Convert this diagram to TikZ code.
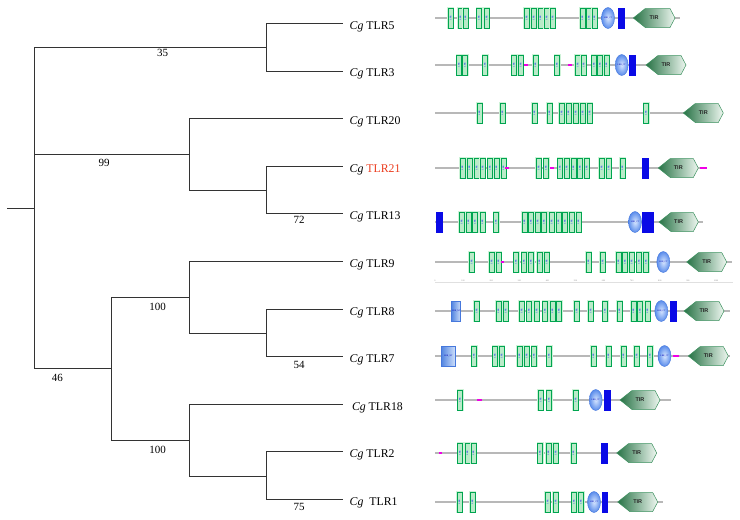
\documentclass[tikz,border=0pt]{standalone}
\usepackage{fontspec}
\setmainfont{Liberation Serif}
\newfontfamily\tirsans{Liberation Sans}
\usetikzlibrary{shapes.geometric}
\definecolor{lrrline}{RGB}{0,165,80}
\definecolor{lrrfill}{RGB}{185,235,200}
\definecolor{lrrglow}{RGB}{205,242,215}
\definecolor{ctline}{RGB}{70,120,220}
\definecolor{ctin}{RGB}{215,230,255}
\definecolor{ctout}{RGB}{90,140,235}
\definecolor{tmblue}{RGB}{10,10,230}
\definecolor{pk}{RGB}{240,0,230}
\definecolor{tirdark}{RGB}{40,115,70}
\definecolor{tirlight}{RGB}{238,247,240}
\definecolor{tirline}{RGB}{60,145,95}
\definecolor{ntdark}{RGB}{85,135,225}
\definecolor{ntlight}{RGB}{205,222,250}
\definecolor{redlab}{RGB}{235,60,30}
\newcounter{dn}
\newcommand{\dL}[2]{\stepcounter{dn}\node[lrrbox] (d\arabic{dn}) at (#1,#2) {LRR};}
\newcommand{\dC}[2]{\stepcounter{dn}\node[ctov] (d\arabic{dn}) at (#1,#2) {LRR\_CT};}
\newcommand{\dT}[3]{\stepcounter{dn}\node[tmbox,minimum width=#3pt] (d\arabic{dn}) at (#1,#2) {};}
\newcommand{\dP}[3]{\stepcounter{dn}\node[pkbox,minimum width=#3pt] (d\arabic{dn}) at (#1,#2) {};}
\newcommand{\dN}[3]{\stepcounter{dn}\node[ntbox,minimum width=#3pt] (d\arabic{dn}) at (#1,#2) {LRR\_NT};}
\newcommand{\dTIR}[3]{\draw[tirshape] (#1,#3) -- ({#1+12},{#3-9.5}) -- ({#2-5},{#3-9.5}) -- (#2,#3) -- ({#2-5},{#3+9.5}) -- ({#1+12},{#3+9.5}) -- cycle;
 \stepcounter{dn}\node[tirtext] (d\arabic{dn}) at ({(#1+#2)/2},#3) {TIR};}
\newcommand{\dB}[3]{\draw[backbone] (#1,#3) -- (#2,#3);}
\begin{document}
\begin{tikzpicture}[x=1pt,y=-1pt,
 tree/.style={draw=black!80,line width=1pt},
 leaf/.style={anchor=base west,inner sep=0pt,font=\fontsize{11.8}{13}\selectfont},
 bs/.style={inner sep=0pt,font=\fontsize{11}{12}\selectfont},
 backbone/.style={draw=black!28,line width=1.3pt},
 lrrbox/.style={rotate=90,draw=lrrline,fill=lrrfill,line width=0.5pt,minimum width=19.5pt,minimum height=5pt,inner sep=0pt,text=blue,font=\fontsize{2.2}{2.4}\selectfont,preaction={draw=lrrglow,line width=2pt}},
 ctov/.style={ellipse,minimum width=13pt,minimum height=21pt,inner sep=0pt,draw=ctline,line width=0.4pt,inner color=ctin,outer color=ctout,text=blue!70!black,font=\fontsize{2.2}{2.4}\selectfont},
 tmbox/.style={rectangle,fill=tmblue,minimum height=21pt,inner sep=0pt},
 pkbox/.style={rectangle,fill=pk,minimum height=2.8pt,inner sep=0pt},
 ntbox/.style={rectangle,draw=ctline,line width=0.5pt,left color=ntdark,right color=ntlight,minimum height=20pt,inner sep=0pt,text=blue!70!black,font=\fontsize{2.2}{2.4}\selectfont},
 tirshape/.style={draw=tirline,line width=0.5pt,left color=tirdark,right color=tirlight},
 tirtext/.style={inner sep=0pt,font=\tirsans\bfseries\fontsize{5.5}{6}\selectfont,text=black!85},
 ticklab/.style={inner sep=0pt,text=black!45,font=\fontsize{2.2}{2.4}\selectfont}]
\useasboundingbox (0,0) rectangle (740,520);
% ---------- tree ----------
\coordinate (r0) at (7,208.3);
\coordinate (n0) at (34,208.3);
\coordinate (n1) at (266,47);
\coordinate (n2) at (189,154.3);
\coordinate (n3) at (266,190);
\coordinate (n4) at (111,368.3);
\coordinate (n5) at (189,297.3);
\coordinate (n6) at (266,333);
\coordinate (n7) at (189,440);
\coordinate (n8) at (266,476);
\coordinate (l5) at (343,23.7);
\coordinate (l3) at (343,71);
\coordinate (l20) at (343,118.3);
\coordinate (l21) at (343,166.3);
\coordinate (l13) at (343,213.7);
\coordinate (l9) at (343,261.3);
\coordinate (l8) at (343,309.3);
\coordinate (l7) at (343,356.7);
\coordinate (l18) at (343,404.3);
\coordinate (l2) at (343,451.7);
\coordinate (l1) at (343,499.7);
\draw[tree] (r0) -- (n0);
\draw[tree] (n0) |- (n1);
\draw[tree] (n0) |- (n2);
\draw[tree] (n0) |- (n4);
\draw[tree] (n1) |- (l5);
\draw[tree] (n1) |- (l3);
\draw[tree] (n2) |- (l20);
\draw[tree] (n2) |- (n3);
\draw[tree] (n3) |- (l21);
\draw[tree] (n3) |- (l13);
\draw[tree] (n4) |- (n5);
\draw[tree] (n4) |- (n7);
\draw[tree] (n5) |- (l9);
\draw[tree] (n5) |- (n6);
\draw[tree] (n6) |- (l8);
\draw[tree] (n6) |- (l7);
\draw[tree] (n7) |- (l18);
\draw[tree] (n7) |- (n8);
\draw[tree] (n8) |- (l2);
\draw[tree] (n8) |- (l1);
% leaf labels
\node[leaf] (t5) at (349.5,29.5) {\textit{Cg} TLR5};
\node[leaf] (t3) at (349.5,76.8) {\textit{Cg} TLR3};
\node[leaf] (t20) at (349.5,124.1) {\textit{Cg} TLR20};
\node[leaf] (t21) at (349.5,172.1) {\textit{Cg} \textcolor{redlab}{TLR21}};
\node[leaf] (t13) at (349.5,219.5) {\textit{Cg} TLR13};
\node[leaf] (t9) at (349.5,267.1) {\textit{Cg} TLR9};
\node[leaf] (t8) at (349.5,315.1) {\textit{Cg} TLR8};
\node[leaf] (t7) at (349.5,362.5) {\textit{Cg} TLR7};
\node[leaf] (t18) at (351.8,410.1) {\textit{Cg} TLR18};
\node[leaf] (t2) at (349.5,457.5) {\textit{Cg} TLR2};
\node[leaf] (t1) at (349.5,505.5) {\textit{Cg}\ \ TLR1};
% bootstrap values
\node[bs] (b35) at (162.5,53) {35};
\node[bs] (b99) at (104,163) {99};
\node[bs] (b72) at (299,220) {72};
\node[bs] (b100a) at (157.7,307) {100};
\node[bs] (b54) at (299,364.7) {54};
\node[bs] (b46) at (57.5,377.5) {46};
\node[bs] (b100b) at (157.7,450.3) {100};
\node[bs] (b75) at (299,507.3) {75};
% ---------- domains ----------
% TLR5
\dB{435}{680}{18}
\foreach \x in {450.7,460.3,465.3,479,486.7,526.7,533.7,540.3,546.7,552.7,582.3,589,594.3} {\dL{\x}{18}}
\dC{608}{18}\dT{621.7}{18}{6.7}\dTIR{633.3}{675}{18}
% TLR3
\dB{435}{686}{65}
\foreach \x in {459,465,485,514,520.7,535.3,557,577.7,583.7,594,600,606.3} {\dL{\x}{65}}
\dP{526}{65}{4}\dP{570}{65}{4}
\dC{621.7}{65}\dT{632.7}{65}{6.7}\dTIR{646}{686}{65}
% TLR20
\dB{435}{723}{113}
\foreach \x in {479.3,502.3,534.3,549.3,561.7,568.3,575.7,582.7,589.7,646} {\dL{\x}{113}}
\dTIR{683.3}{723.3}{113}
% TLR21
\dB{435}{700}{168}
\foreach \x in {462.3,469.3,476.7,482.7,490,496.3,503.3,538.7,546,560,566.7,573.3,580,586.7,601.7,608.7,622.3} {\dL{\x}{168}}
\dP{507.3}{168}{4}\dP{551.7}{168}{4}\dP{703.3}{168}{6.7}
\dT{645.7}{168}{6.7}\dTIR{658.3}{698.3}{168}
% TLR13
\dB{435}{703}{222}
\dT{439.7}{222}{7.3}
\foreach \x in {461.7,468.3,475,482.3,496,524.3,531,537.7,544,551.7,558.3,565,571.7,578.3} {\dL{\x}{222}}
\dC{635}{222}\dT{648.3}{222}{12}\dTIR{659}{698.3}{222}
% TLR9
\dB{435}{732}{262}
\foreach \x in {471.7,491.7,498.3,516,524,531,539.3,546.7,588.3,602.7,618.3,625,631.7,639,646} {\dL{\x}{262}}
\dP{502.7}{262}{3.5}
\dC{663.3}{262}\dTIR{686.7}{726.7}{262}
% scale
\draw[draw=black!12,line width=0.4pt] (435,282) -- (733,282);
\foreach \i in {0,...,10} {\pgfmathtruncatemacro{\tv}{100*\i}\node[ticklab] (tk\i) at ({435+28.1*\i},280.5) {\tv};}
% TLR8
\dB{435}{730}{311}
\dN{456.2}{311}{9}
\foreach \x in {476.7,498.3,505.7,521.7,529,536.7,545,552.3,559,576.7,590.7,605,619.3,633.3,640,647.3} {\dL{\x}{311}}
\dC{661.3}{311}\dT{673.3}{311}{6.7}\dTIR{684}{724}{311}
% TLR7
\dB{435}{730}{356}
\dN{448.3}{356}{13.3}
\foreach \x in {474,495,501.7,519.3,526.7,534,549,593.3,608.3,623.3,636.7,650} {\dL{\x}{356}}
\dC{664.5}{356}\dP{676}{356}{6.7}\dTIR{688.3}{728.3}{356}
% TLR18
\dB{435}{671}{400}
\foreach \x in {460,540.7,549,575.7} {\dL{\x}{400}}
\dP{479.3}{400}{5}
\dC{595.7}{400}\dT{607.3}{400}{6.7}\dTIR{620}{660}{400}
% TLR2
\dB{435}{657}{453}
\dP{440.7}{453}{3.5}
\foreach \x in {460,467.3,473.3,540,548.3,555.7,573.3} {\dL{\x}{453}}
\dT{604.3}{453}{6.7}\dTIR{616.7}{656.7}{453}
% TLR1
\dB{435}{663}{502}
\foreach \x in {459.3,472.3,547.7,555.7,574,581} {\dL{\x}{502}}
\dC{594}{502}\dT{605}{502}{6.7}\dTIR{617.7}{657.7}{502}
\end{tikzpicture}
\end{document}
